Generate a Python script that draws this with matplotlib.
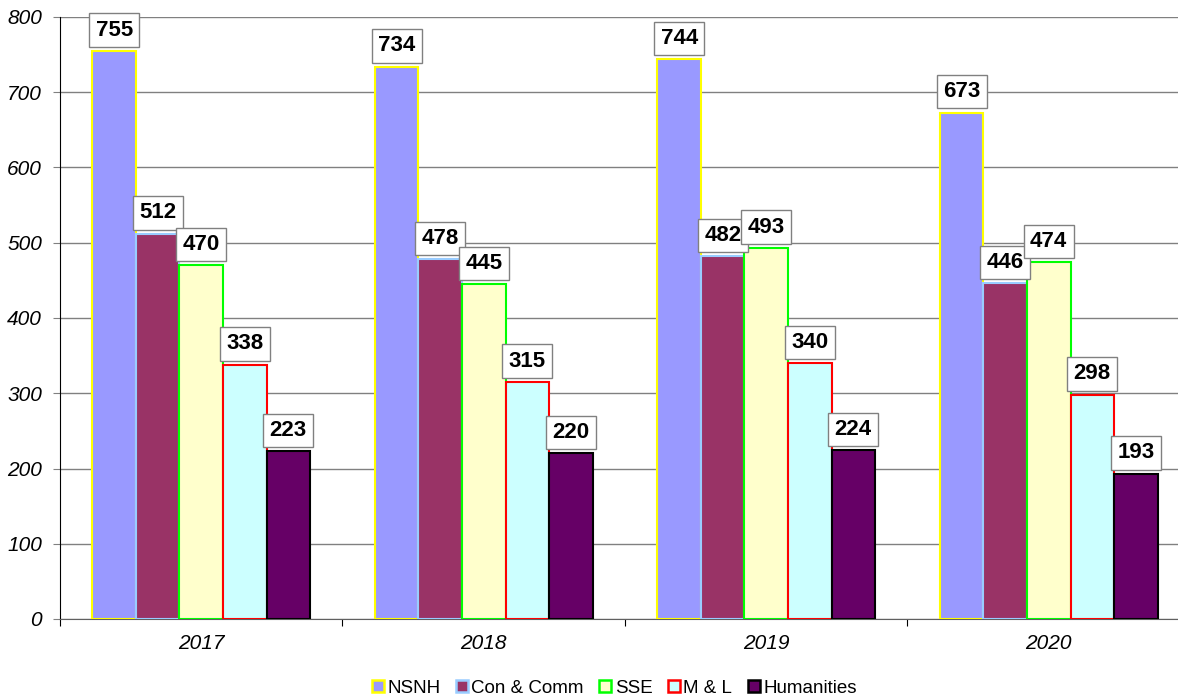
import matplotlib.pyplot as plt
import numpy as np
from matplotlib.lines import Line2D

plt.rcParams['font.family'] = ['Liberation Sans', 'DejaVu Sans']

years = ['2017', '2018', '2019', '2020']
series = ['NSNH', 'Con & Comm', 'SSE', 'M & L', 'Humanities']
nsnh = [755, 734, 744, 673]
con_comm = [512, 478, 482, 446]
sse = [470, 445, 493, 474]
ml = [338, 315, 340, 298]
humanities = [223, 220, 224, 193]
values = [nsnh, con_comm, sse, ml, humanities]

fills = ['#9999FF', '#993366', '#FFFFCC', '#CCFFFF', '#660066']
edges = ['#FFFF00', '#99CCFF', '#00FF00', '#FF0000', '#000000']

fig = plt.figure(figsize=(11.78, 7), dpi=100)
ax = fig.add_axes([60 / 1178, 1 - 619 / 700, 1130 / 1178, 602 / 700])

x = np.arange(len(years))
width = 0.154
for i, (vals, fc, ec) in enumerate(zip(values, fills, edges)):
    pos = x + (i - 2) * width
    ax.bar(pos, vals, width=width, color=fc, edgecolor=ec, linewidth=1.5, zorder=3)
    for xp, v in zip(pos, vals):
        ax.annotate(str(v), (xp, v), xytext=(0, 15), textcoords='offset points',
                    ha='center', va='center', fontsize=16, fontweight='bold',
                    bbox=dict(boxstyle='square,pad=0.28', fc='white', ec='#808080', lw=1),
                    zorder=5)

ax.set_xlim(-0.5, 3.5)
ax.set_ylim(0, 800)
ax.set_yticks(range(0, 801, 100))
ax.yaxis.grid(True, color='#808080', linewidth=1)
ax.set_axisbelow(True)

ax.set_xticks([-0.5, 0.5, 1.5, 2.5])
ax.set_xticklabels([])
ax.set_xticks(x, minor=True)
ax.set_xticklabels(years, minor=True, fontsize=15, style='italic')
ax.tick_params(axis='x', which='major', direction='out', length=5, color='black')
ax.tick_params(axis='x', which='minor', length=0, pad=11)
ax.tick_params(axis='y', direction='out', length=5, color='#808080', labelsize=15, pad=8)
for lab in ax.get_yticklabels():
    lab.set_style('italic')

for s in ['top', 'right']:
    ax.spines[s].set_visible(False)
ax.spines['left'].set_color('black')
ax.spines['bottom'].set_color('#606060')

handles = [Line2D([], [], marker='s', linestyle='none', markersize=8,
                  markerfacecolor=fc, markeredgecolor=ec, markeredgewidth=1.8)
           for fc, ec in zip(fills, edges)]
fig.legend(handles, series, loc='center', bbox_to_anchor=(614 / 1178, 1 - 688 / 700),
           ncol=5, frameon=False, fontsize=13.5, handlelength=0.7, handletextpad=0.15,
           columnspacing=0.8)

fig.savefig('out.png', dpi=100)
